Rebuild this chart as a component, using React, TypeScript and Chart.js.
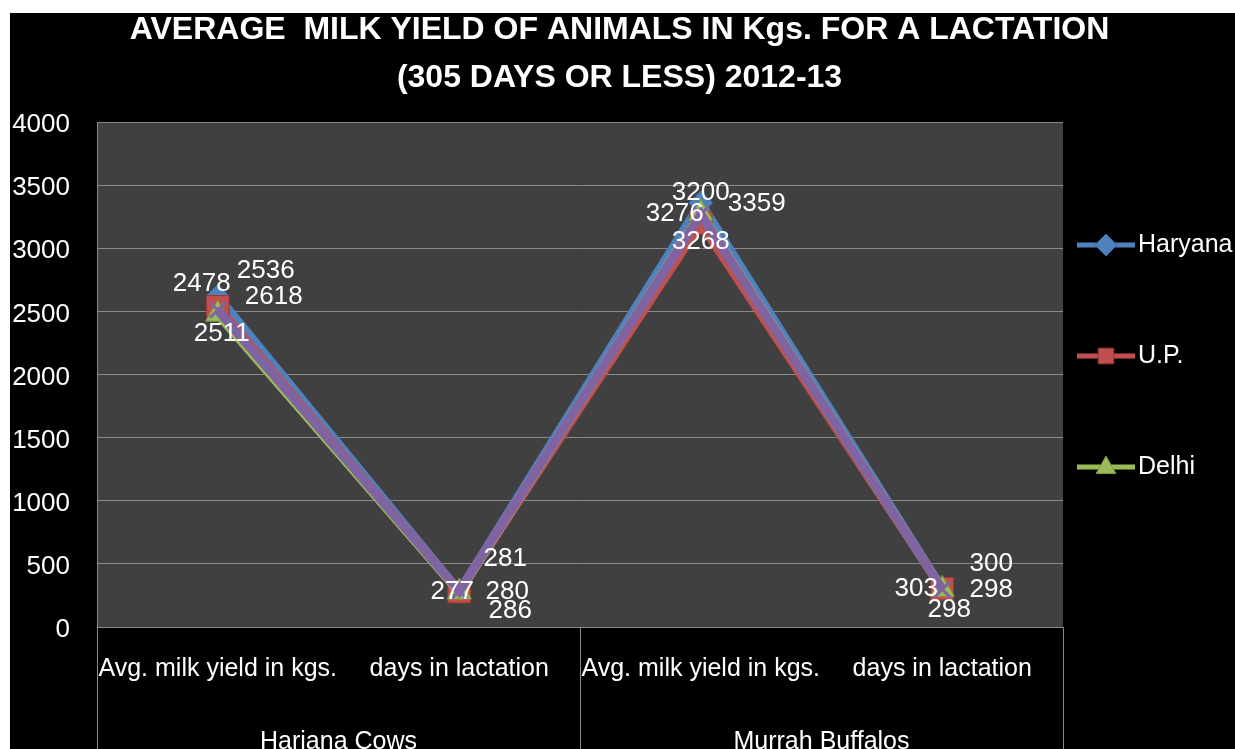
import React, { useEffect, useRef } from "react";
import { Chart, registerables } from "chart.js";

Chart.register(...registerables);

const TITLE_LINES = [
  "AVERAGE  MILK YIELD OF ANIMALS IN Kgs. FOR A LACTATION",
  "(305 DAYS OR LESS) 2012-13",
];
const CATEGORIES = [
  "Avg. milk yield in kgs.",
  "days in lactation",
  "Avg. milk yield in kgs.",
  "days in lactation",
];
const GROUPS = ["Hariana Cows", "Murrah Buffalos"];
const SERIES_NAMES = ["Haryana", "U.P.", "Delhi", "Series 4"];
const HARYANA = [2618, 281, 3359, 300];
const UP = [2536, 280, 3200, 303];
const DELHI = [2478, 277, 3276, 298];
const SERIES4 = [2511, 286, 3268, 298];
const Y_MIN = 0;
const Y_MAX = 4000;
const Y_STEP = 500;

// styling
const COLORS = ["#4f81bd", "#c0504d", "#9bbb59", "#8064a2"];
const BORDERS = ["#3b6aa3", "#9c3532", "#7d9a42", "#8064a2"];
const POINT_STYLES = ["rectRot", "rect", "triangle", "crossRot"];
const POINT_RADII = [12, 16, 14, 11];
const IN_LEGEND = [true, true, true, false];
// label offsets (dx, dy) from each point, per series
const LABEL_OFFSETS = [
  [[56, 0], [46, -33], [56, 1], [49, -25]],
  [[48, -36], [48, 0], [0, -30], [-26, 0]],
  [[-16, -30], [-7, 0], [-26, 0], [49, 0]],
  [[4, 24], [51, 20], [0, 27], [7, 20]],
];

const FONT = "'Liberation Sans', Arial, sans-serif";

function drawMarker(ctx: CanvasRenderingContext2D, style: string, x: number, y: number, r: number, fill: string, stroke: string) {
  ctx.save();
  ctx.fillStyle = fill;
  ctx.strokeStyle = stroke;
  ctx.lineWidth = 1;
  ctx.beginPath();
  if (style === "rectRot") {
    ctx.moveTo(x, y - r);
    ctx.lineTo(x + r, y);
    ctx.lineTo(x, y + r);
    ctx.lineTo(x - r, y);
    ctx.closePath();
    ctx.fill();
    ctx.stroke();
  } else if (style === "rect") {
    const s = r * Math.SQRT1_2;
    ctx.rect(x - s, y - s, 2 * s, 2 * s);
    ctx.fill();
    ctx.stroke();
  } else if (style === "triangle") {
    ctx.moveTo(x, y - r);
    ctx.lineTo(x + r * 0.9, y + r * 0.6);
    ctx.lineTo(x - r * 0.9, y + r * 0.6);
    ctx.closePath();
    ctx.fill();
    ctx.stroke();
  }
  ctx.restore();
}

const decorPlugin = {
  id: "decor",
  beforeDraw(chart: any) {
    const { ctx, chartArea: a, width, height } = chart;
    ctx.save();
    ctx.fillStyle = "#000";
    ctx.fillRect(0, 0, width, height);
    ctx.fillStyle = "#404040";
    ctx.fillRect(a.left, a.top, a.right - a.left, a.bottom - a.top);
    ctx.restore();
  },
  afterDatasetsDraw(chart: any) {
    const { ctx } = chart;
    ctx.save();
    ctx.fillStyle = "#fff";
    ctx.font = `26px ${FONT}`;
    ctx.textAlign = "center";
    ctx.textBaseline = "middle";
    chart.data.datasets.forEach((ds: any, di: number) => {
      const meta = chart.getDatasetMeta(di);
      meta.data.forEach((pt: any, i: number) => {
        const [dx, dy] = LABEL_OFFSETS[di][i];
        ctx.fillText(String(ds.data[i]), pt.x + dx, pt.y + dy);
      });
    });
    ctx.restore();
  },
  afterDraw(chart: any) {
    const { ctx, chartArea: a, width, height, scales } = chart;
    ctx.save();
    // title
    ctx.fillStyle = "#fff";
    ctx.font = `bold 32px ${FONT}`;
    ctx.textAlign = "center";
    ctx.textBaseline = "alphabetic";
    ctx.fillText(TITLE_LINES[0], width / 2 - 3, 26);
    ctx.fillText(TITLE_LINES[1], width / 2 - 3, 74);

    // group separators and labels
    const x = scales.x;
    const bounds = [a.left, (x.getPixelForValue(1) + x.getPixelForValue(2)) / 2, a.right];
    ctx.strokeStyle = "#8a8a8a";
    ctx.lineWidth = 1;
    bounds.forEach((bx) => {
      ctx.beginPath();
      ctx.moveTo(Math.round(bx) + 0.5, a.bottom);
      ctx.lineTo(Math.round(bx) + 0.5, height);
      ctx.stroke();
    });
    ctx.font = `25px ${FONT}`;
    ctx.textBaseline = "middle";
    GROUPS.forEach((g, gi) => {
      const cx = (x.getPixelForValue(gi * 2) + x.getPixelForValue(gi * 2 + 1)) / 2;
      ctx.fillText(g, cx, a.bottom + 115);
    });

    // legend
    let row = 0;
    chart.data.datasets.forEach((ds: any, di: number) => {
      if (!IN_LEGEND[di]) return;
      const ly = a.top + 123 + row * 111;
      row++;
      ctx.strokeStyle = COLORS[di];
      ctx.lineWidth = 5;
      ctx.beginPath();
      ctx.moveTo(a.right + 14, ly);
      ctx.lineTo(a.right + 72, ly);
      ctx.stroke();
      drawMarker(ctx, POINT_STYLES[di], a.right + 43, ly, 11, COLORS[di], BORDERS[di]);
      ctx.fillStyle = "#fff";
      ctx.font = `25px ${FONT}`;
      ctx.textAlign = "left";
      ctx.textBaseline = "middle";
      ctx.fillText(ds.label, a.right + 75, ly);
    });
    ctx.restore();
  },
};

export default function App() {
  const ref = useRef<HTMLCanvasElement | null>(null);
  useEffect(() => {
    if (!ref.current) return;
    const series = [HARYANA, UP, DELHI, SERIES4];
    const chart = new Chart(ref.current, {
      type: "line",
      data: {
        labels: CATEGORIES,
        datasets: series.map((d, i) => ({
          label: SERIES_NAMES[i],
          data: d,
          borderColor: COLORS[i],
          backgroundColor: COLORS[i],
          borderWidth: 9,
          pointStyle: POINT_STYLES[i] as any,
          pointRadius: POINT_RADII[i],
          pointBackgroundColor: COLORS[i],
          pointBorderColor: BORDERS[i],
          pointBorderWidth: i === 3 ? 3 : 1,
          tension: 0,
          order: 3 - i,
        })),
      },
      options: {
        animation: false,
        responsive: true,
        maintainAspectRatio: false,
        layout: { padding: { top: 109, right: 172, left: 0, bottom: 0 } },
        plugins: {
          legend: { display: false },
          title: { display: false },
          tooltip: { enabled: false },
        },
        scales: {
          x: {
            type: "category",
            offset: true,
            grid: { display: false, drawTicks: false, tickLength: 0 },
            border: { display: false },
            ticks: {
              color: "#fff",
              font: { family: FONT, size: 25 },
              padding: 27,
              maxRotation: 0,
              autoSkip: false,
            },
            afterFit: (s: any) => {
              s.height = 122;
            },
          },
          y: {
            min: Y_MIN,
            max: Y_MAX,
            grid: { color: "#8a8a8a", lineWidth: 1, drawTicks: false, tickLength: 0 },
            border: { display: true, color: "#8a8a8a" },
            ticks: {
              stepSize: Y_STEP,
              color: "#fff",
              font: { family: FONT, size: 26 },
              padding: 27,
              labelOffset: 3,
              callback: (v: any) => String(v),
            },
            afterFit: (s: any) => {
              s.width = 87;
            },
          },
        },
      },
      plugins: [decorPlugin],
    });
    return () => chart.destroy();
  }, []);

  return (
    <div
      style={{
        position: "fixed",
        left: 10,
        top: 13,
        width: 1225,
        height: 736,
        background: "#000",
        overflow: "hidden",
      }}
    >
      <canvas ref={ref} />
    </div>
  );
}
